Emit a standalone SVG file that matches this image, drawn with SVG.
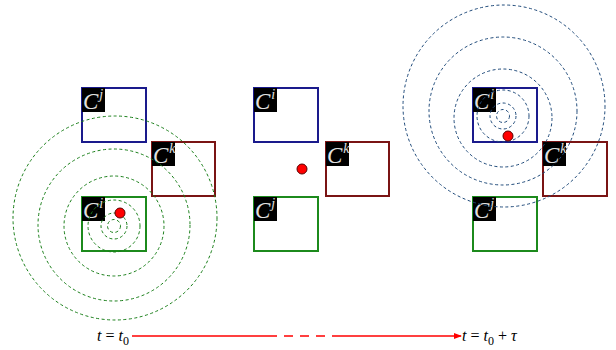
<svg xmlns="http://www.w3.org/2000/svg" width="616" height="350" viewBox="0 0 616 350">
  <defs>
    <style>
      .cell { fill: #fff; stroke-width: 2; }
      .blue { stroke: #1a1a8c; }
      .red { stroke: #7a1414; }
      .green { stroke: #1c8a1c; }
      .tag { fill: #000; }
      .lbl { font-family: "Liberation Serif", "DejaVu Serif", serif; font-style: italic; fill: #e0e0e0; font-size: 23px; }
      .sup { font-size: 14px; }
      .ringG { fill: none; stroke: #1a7f1a; stroke-width: 1; stroke-dasharray: 3 2.5; }
      .ringB { fill: none; stroke: #1f4a7a; stroke-width: 1; stroke-dasharray: 3 2.5; }
      .dot { fill: #ff0000; stroke: #5a0000; stroke-width: 1; }
      .axis { stroke: #ff0000; stroke-width: 1.6; fill: none; }
      .time { font-family: "Liberation Serif", "DejaVu Serif", serif; font-size: 16px; fill: #000; }
    </style>
    <marker id="arrowhead" markerWidth="8" markerHeight="6" refX="7" refY="3" orient="auto" markerUnits="userSpaceOnUse">
      <path d="M0,0 L8,3 L0,6 Z" fill="#ff0000"/>
    </marker>
  </defs>

  <!-- Left: t = t0 -->
  <g id="left-panel">
    <g id="left-cj">
      <rect class="cell blue" x="82" y="88" width="64" height="54"/>
      <rect class="tag" x="82" y="88" width="23" height="24"/>
      <text class="lbl" x="83" y="109">C<tspan class="sup" dx="1" dy="-10">j</tspan></text>
    </g>
    <g id="left-ck">
      <rect class="cell red" x="152" y="142" width="63" height="54"/>
      <rect class="tag" x="152" y="142" width="23" height="24"/>
      <text class="lbl" x="153" y="163">C<tspan class="sup" dx="1" dy="-10">k</tspan></text>
    </g>
    <g id="left-ci">
      <rect class="cell green" x="82" y="197" width="64" height="54"/>
      <rect class="tag" x="82" y="197" width="23" height="24"/>
      <text class="lbl" x="83" y="218">C<tspan class="sup" dx="1" dy="-10">i</tspan></text>
    </g>
    <g id="left-rings">
      <circle class="ringG" cx="114" cy="226" r="6.5"/>
      <circle class="ringG" cx="114" cy="226" r="13"/>
      <circle class="ringG" cx="114" cy="226" r="26"/>
      <circle class="ringG" cx="114" cy="226" r="50"/>
      <circle class="ringG" cx="114" cy="225" r="76"/>
      <circle class="ringG" cx="115" cy="218" r="102"/>
    </g>
    <circle id="left-dot" class="dot" cx="120" cy="213" r="5"/>
  </g>

  <!-- Middle -->
  <g id="middle-panel">
    <g id="mid-ci">
      <rect class="cell blue" x="254" y="88" width="64" height="54"/>
      <rect class="tag" x="254" y="88" width="23" height="24"/>
      <text class="lbl" x="255" y="109">C<tspan class="sup" dx="1" dy="-10">i</tspan></text>
    </g>
    <g id="mid-ck">
      <rect class="cell red" x="326" y="142" width="63" height="54"/>
      <rect class="tag" x="326" y="142" width="23" height="24"/>
      <text class="lbl" x="327" y="163">C<tspan class="sup" dx="1" dy="-10">k</tspan></text>
    </g>
    <g id="mid-cj">
      <rect class="cell green" x="254" y="197" width="64" height="54"/>
      <rect class="tag" x="254" y="197" width="23" height="24"/>
      <text class="lbl" x="255" y="218">C<tspan class="sup" dx="1" dy="-10">j</tspan></text>
    </g>
    <circle id="mid-dot" class="dot" cx="302" cy="169" r="5"/>
  </g>

  <!-- Right: t = t0 + tau -->
  <g id="right-panel">
    <g id="right-ck">
      <rect class="cell red" x="543" y="142" width="64" height="54"/>
      <rect class="tag" x="543" y="142" width="23" height="24"/>
      <text class="lbl" x="544" y="163">C<tspan class="sup" dx="1" dy="-10">k</tspan></text>
    </g>
    <g id="right-cj">
      <rect class="cell green" x="473" y="197" width="64" height="54"/>
      <rect class="tag" x="473" y="197" width="23" height="24"/>
      <text class="lbl" x="474" y="218">C<tspan class="sup" dx="1" dy="-10">j</tspan></text>
    </g>
    <g id="right-ci">
      <rect class="cell blue" x="473" y="88" width="64" height="54"/>
      <rect class="tag" x="473" y="88" width="23" height="24"/>
      <text class="lbl" x="474" y="109">C<tspan class="sup" dx="1" dy="-10">i</tspan></text>
    </g>
    <g id="right-rings">
      <circle class="ringB" cx="503" cy="116" r="6.5"/>
      <circle class="ringB" cx="503" cy="116" r="13"/>
      <circle class="ringB" cx="503" cy="116" r="26"/>
      <circle class="ringB" cx="503" cy="118" r="49"/>
      <circle class="ringB" cx="503" cy="111" r="74"/>
      <circle class="ringB" cx="504" cy="106" r="101"/>
    </g>
    <circle id="right-dot" class="dot" cx="508" cy="136" r="5"/>
  </g>

  <!-- Time axis -->
  <g id="connectors">
    <line class="axis" x1="132" y1="336" x2="268" y2="336"/>
    <line class="axis" x1="268" y1="336" x2="336" y2="336" stroke-dasharray="9 7"/>
    <line class="axis" x1="336" y1="336" x2="461" y2="336" marker-end="url(#arrowhead)"/>
  </g>
  <g id="time-labels">
    <text class="time" x="97" y="341"><tspan font-style="italic">t</tspan> = <tspan font-style="italic">t</tspan><tspan font-size="12" dy="4">0</tspan></text>
    <text class="time" x="462" y="341"><tspan font-style="italic">t</tspan> = <tspan font-style="italic">t</tspan><tspan font-size="12" dy="4">0</tspan><tspan dy="-4"> + </tspan><tspan font-style="italic">τ</tspan></text>
  </g>
</svg>
